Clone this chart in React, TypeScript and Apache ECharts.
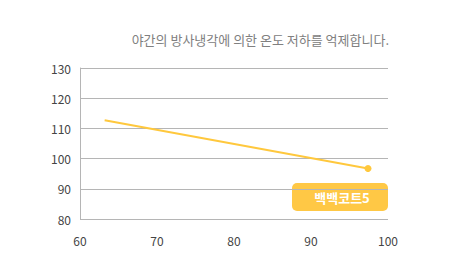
import React, { useEffect, useRef } from "react";
import * as echarts from "echarts";

const titleText = "야간의 방사냉각에 의한 온도 저하를 억제합니다.";
const seriesName = "백백코트5";
const xValues = [63.2, 97.4];
const yValues = [112.7, 96.7];
const xTicks = [60, 70, 80, 90, 100];
const yTicks = [80, 90, 100, 110, 120, 130];

export default function App() {
  const ref = useRef<HTMLDivElement>(null);
  useEffect(() => {
    document.body.style.margin = "0";
    const chart = echarts.init(ref.current!, null, { renderer: "svg" });
    const data = xValues.map((x, i) => [x, yValues[i]]);
    chart.setOption({
      animation: false,
      textStyle: { fontFamily: "'Noto Sans CJK KR', 'Noto Sans', sans-serif" },
      title: {
        text: titleText,
        right: 66,
        top: 28,
        textStyle: { fontSize: 13, color: "#808080", fontWeight: "normal", fontFamily: "'Noto Sans CJK KR', sans-serif" },
      },
      grid: { left: 80, right: 72, top: 68, bottom: 51 },
      xAxis: {
        type: "value",
        min: xTicks[0],
        max: xTicks[xTicks.length - 1],
        interval: 10,
        axisLine: { show: false },
        axisTick: { show: false },
        splitLine: { show: false },
        axisLabel: { fontSize: 12, color: "#444", margin: 15 },
      },
      yAxis: {
        type: "value",
        min: yTicks[0],
        max: yTicks[yTicks.length - 1],
        interval: 10,
        axisLine: { show: true, lineStyle: { color: "#b5b5b5", width: 1 } },
        axisTick: { show: false },
        splitLine: { show: true, lineStyle: { color: "#b5b5b5", width: 1 } },
        axisLabel: { fontSize: 12, color: "#444", margin: 9 },
      },
      series: [
        {
          type: "line",
          name: seriesName,
          data: data,
          lineStyle: { color: "#FFC83D", width: 2 },
          itemStyle: { color: "#FFC83D" },
          symbol: "circle",
          symbolSize: (_v: any, p: any) => (p.dataIndex === data.length - 1 ? 7 : 0),
          showSymbol: true,
        },
      ],
      graphic: [
        {
          type: "group",
          left: 292,
          top: 183,
          children: [
            {
              type: "rect",
              shape: { x: 0, y: 0, width: 96, height: 28, r: 5 },
              style: { fill: "#FFC845" },
            },
            {
              type: "text",
              x: 50,
              y: 14,
              style: {
                text: seriesName,
                fill: "#fff",
                font: "bold 13px 'Noto Sans CJK KR', sans-serif",
                align: "center",
                verticalAlign: "middle",
              },
            },
          ],
        },
      ],
    });
    return () => chart.dispose();
  }, []);
  return <div ref={ref} style={{ width: 460, height: 270 }} />;
}
